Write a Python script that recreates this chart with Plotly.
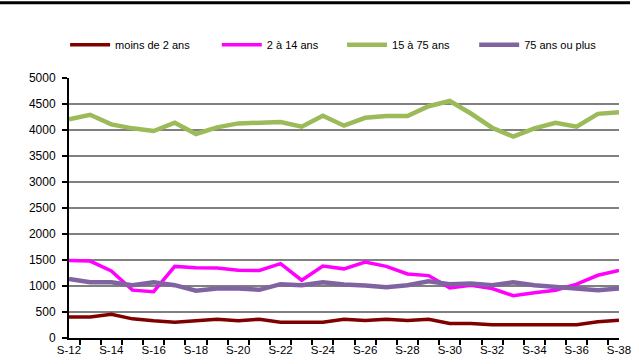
import plotly.graph_objects as go

# Weekly counts by age group
weeks = [f"S-{w}" for w in range(12, 39)]

moins_2 = [406, 406, 457, 368, 330, 305, 330, 362, 330, 362, 305, 305, 305, 362,
           336, 362, 336, 362, 279, 279, 254, 254, 254, 254, 254, 311, 343]
de_2_a_14 = [1491, 1480, 1290, 920, 890, 1377, 1352, 1345, 1301, 1300, 1429, 1111, 1384, 1330,
             1460, 1377, 1232, 1200, 965, 1016, 952, 813, 870, 920, 1035, 1206, 1301]
de_15_a_75 = [4204, 4292, 4108, 4032, 3981, 4140, 3924, 4051, 4127, 4130, 4152, 4063, 4273, 4083,
              4235, 4267, 4270, 4457, 4558, 4317, 4044, 3873, 4032, 4140, 4063, 4311, 4343]
plus_75 = [1137, 1073, 1073, 1016, 1073, 1016, 908, 952, 952, 927, 1035, 1016, 1073, 1030,
           1010, 978, 1016, 1092, 1035, 1048, 1016, 1073, 1016, 978, 952, 920, 952]

# name, values, colour, line width, legend box, legend x position
series = [
    ("moins de 2 ans", moins_2, "#800000", 3.5, "legend", -0.0071),
    ("2 à 14 ans", de_2_a_14, "#FF00FF", 3.5, "legend2", 0.2687),
    ("15 à 75 ans", de_15_a_75, "#9BBB59", 4.5, "legend3", 0.4964),
    ("75 ans ou plus", plus_75, "#8064A2", 4.5, "legend4", 0.7367),
]

fig = go.Figure()
legends = {}
for name, vals, color, width, leg, lx in series:
    fig.add_trace(go.Scatter(x=weeks, y=vals, name=name, mode="lines", legend=leg,
                             line=dict(color=color, width=width)))
    legends[leg] = dict(orientation="h", x=lx, xanchor="left", y=1.128, yanchor="middle",
                        font=dict(size=11), itemwidth=40, bgcolor="rgba(0,0,0,0)")

fig.update_layout(
    width=639, height=364,
    margin=dict(l=69, r=8, t=78, b=24),
    plot_bgcolor="white", paper_bgcolor="white",
    font=dict(family="Liberation Sans, Arial, sans-serif", size=11, color="black"),
    showlegend=True,
    **legends,
    xaxis=dict(type="category", showgrid=False, showline=True, linecolor="black", linewidth=2,
               ticks="outside", tickson="boundaries", ticklen=5, tickwidth=2, tickcolor="black",
               ticklabelstep=2, tickangle=0, tickfont=dict(size=11.5), fixedrange=True),
    yaxis=dict(range=[0, 5000], dtick=500, showgrid=True, gridcolor="#808080", gridwidth=2,
               showline=True, linecolor="black", linewidth=2, zeroline=False,
               ticks="outside", ticklen=5, tickwidth=2, tickcolor="black",
               ticklabelstandoff=4, tickfont=dict(size=12), fixedrange=True),
    shapes=[dict(type="line", xref="paper", yref="paper", x0=-0.13, x1=1.02,
                 y0=1.289, y1=1.289, line=dict(color="black", width=3))],
)

fig.write_html("out.html")
